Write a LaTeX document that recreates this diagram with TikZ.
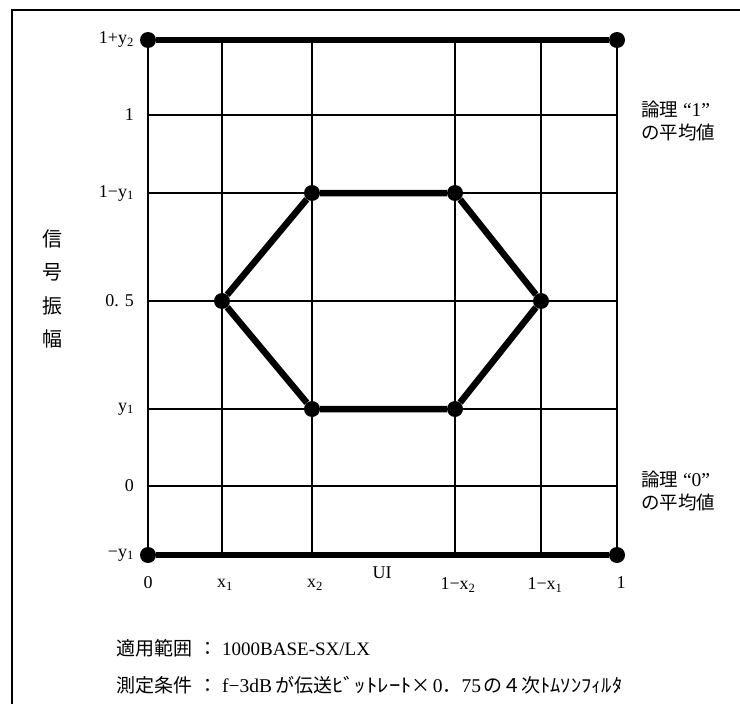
\documentclass[tikz,border=0pt]{standalone}
\usepackage{fontspec}
\setmainfont{Liberation Serif}
\newfontfamily\cjk{Noto Sans CJK JP}
\usetikzlibrary{calc}
\tikzset{
  gridline/.style={black,line width=2pt},
  eyeline/.style={black,line width=6.5pt},
  dotmark/.style={circle,fill=black,inner sep=0pt,minimum size=16pt},
  ylab/.style={anchor=east,inner sep=0pt,font=\fontsize{18}{20}\selectfont},
  xlab/.style={inner sep=0pt,font=\fontsize{18}{20}\selectfont},
  jlab/.style={anchor=west,inner sep=0pt,align=left,font=\fontsize{19.5}{23}\selectfont}
}
\newcommand{\jp}[1]{{\cjk\fontsize{18.5}{23}\selectfont #1}}
\newcommand{\jpb}[1]{{\cjk\fontsize{19}{23}\selectfont #1}}
\newcommand{\colsep}{\hspace{6pt}\jpb{：}\hspace{5pt}}

\begin{document}
\begin{tikzpicture}[x=1pt,y=-1pt]
\useasboundingbox (0,0) rectangle (740,704);
% frame
\draw[line width=2pt] (12,704) -- (12,10) -- (740,10);
% grid
\foreach \x in {148,222,312,455,541,617} {
 \draw[gridline] (\x,40) -- (\x,555);
}
\foreach \y in {40,115,193,301,409,486,555} {
 \draw[gridline] (148,\y) -- (617,\y);
}
% dots
\node[dotmark] (tl) at (148,40) {};
\node[dotmark] (tr) at (617,40) {};
\node[dotmark] (bl) at (148,555) {};
\node[dotmark] (br) at (617,555) {};
\node[dotmark] (h1) at (312,193) {};
\node[dotmark] (h2) at (455,193) {};
\node[dotmark] (h3) at (541,301) {};
\node[dotmark] (h4) at (455,409) {};
\node[dotmark] (h5) at (312,409) {};
\node[dotmark] (h6) at (222,301) {};
\draw[eyeline] (tl) -- (tr);
\draw[eyeline] (bl) -- (br);
\draw[eyeline] (h1) -- (h2) -- (h3) -- (h4) -- (h5) -- (h6) -- (h1);
% y labels
\node[ylab] (ly7) at (134,40) {1+y\textsubscript{2}};
\node[ylab] (ly6) at (134,115) {1};
\node[ylab] (ly5) at (134,193) {1−y\textsubscript{1}};
\node[ylab] (ly4) at (134,301) {0. 5};
\node[ylab] (ly3) at (134,409) {y\textsubscript{1}};
\node[ylab] (ly2) at (134,486) {0};
\node[ylab] (ly1) at (134,555) {−y\textsubscript{1}};
% x labels
\node[xlab] (lx0) at (148,583) {0};
\node[xlab] (lx1) at (225,585) {x\textsubscript{1}};
\node[xlab] (lx2) at (315,585) {x\textsubscript{2}};
\node[xlab] (lx3) at (458,585) {1−x\textsubscript{2}};
\node[xlab] (lx4) at (545,585) {1−x\textsubscript{1}};
\node[xlab] (lx5) at (621,583) {1};
\node[xlab] (ui) at (382,573) {UI};
% axis title and notes
\node[inner sep=0pt,align=center,font=\cjk\fontsize{20}{33.5}\selectfont] (amp) at (52,289) {信\\号\\振\\幅};
\node[jlab] (mark1) at (641,121.5) {\jp{論理} “1”\\\jp{の平均値}};
\node[jlab] (mark0) at (641,491) {\jp{論理} “0”\\\jp{の平均値}};
\node[jlab,font=\fontsize{19}{23}\selectfont] (scope) at (116,648) {\jpb{適用範囲}\colsep 1000BASE-SX/LX};
\node[jlab] (cond) at (116,685) {\jpb{測定条件}\colsep f−3dB\hspace{3pt}\jpb{が伝送\scalebox{1.2}[1]{ﾋﾞｯﾄﾚｰﾄ}×}\hspace{2pt}0\jpb{．}75\hspace{2pt}\jpb{の４次\scalebox{1.08}[1]{ﾄﾑｿﾝﾌｨﾙﾀ}}};
\end{tikzpicture}
\end{document}
